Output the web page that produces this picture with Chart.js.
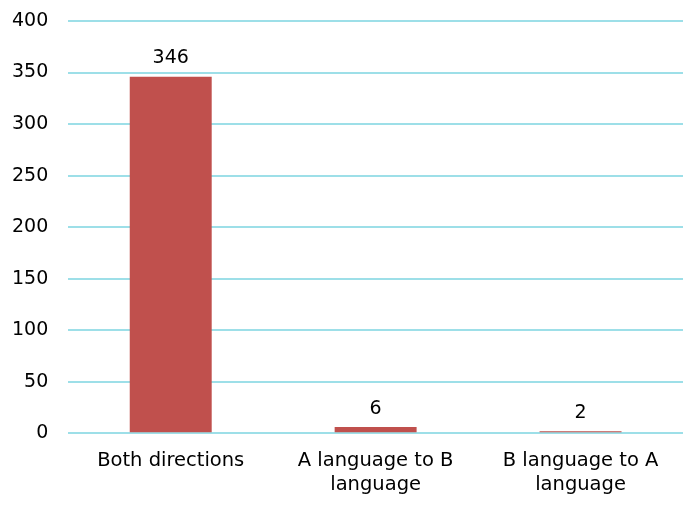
<!DOCTYPE html>
<html>
<head>
<meta charset="utf-8">
<script src="https://cdn.jsdelivr.net/npm/chart.js@4"></script>
<style>
  html, body { margin: 0; padding: 0; background: #fff; }
  #wrap { width: 700px; height: 506px; position: relative; }
</style>
</head>
<body>
<div id="wrap"><canvas id="chart"></canvas></div>
<script>
const categories = [
  "Both directions",
  ["A language to B", "language"],
  ["B language to A", "language"]
];
const counts = [346, 6, 2];
const yTicks = [0, 50, 100, 150, 200, 250, 300, 350, 400];

const FONT = "'DejaVu Sans', Verdana, sans-serif";

// draws the value above each bar
const valueLabels = {
  id: "valueLabels",
  afterDatasetsDraw(chart) {
    const ctx = chart.ctx;
    const meta = chart.getDatasetMeta(0);
    ctx.save();
    ctx.font = "19px " + FONT;
    ctx.fillStyle = "#000";
    ctx.textAlign = "center";
    ctx.textBaseline = "bottom";
    meta.data.forEach((bar, i) => {
      ctx.fillText(String(counts[i]), bar.x, bar.y - 9);
    });
    ctx.restore();
  }
};

new Chart(document.getElementById("chart").getContext("2d"), {
  type: "bar",
  data: {
    labels: categories,
    datasets: [{
      label: "Count",
      data: counts,
      backgroundColor: "#c0504d",
      barPercentage: 0.4,
      categoryPercentage: 1.0
    }]
  },
  options: {
    responsive: true,
    maintainAspectRatio: false,
    animation: false,
    layout: { padding: { top: 0, right: 17, bottom: 2, left: -8 } },
    plugins: {
      legend: { display: false },
      tooltip: { enabled: false }
    },
    scales: {
      x: {
        grid: { display: false },
        border: { display: false },
        ticks: {
          color: "#000",
          font: { family: FONT, size: 19.5, lineHeight: 1.25 },
          padding: 7,
          maxRotation: 0
        }
      },
      y: {
        min: 0,
        max: 400,
        afterBuildTicks(axis) {
          axis.ticks = yTicks.map(v => ({ value: v }));
        },
        // tick padding also pads the top; only keep room for half a label
        afterFit(axis) {
          axis.paddingTop = 21;
        },
        grid: { color: "#9ddfe8", lineWidth: 2, drawTicks: false },
        border: { display: false },
        ticks: {
          color: "#000",
          font: { family: FONT, size: 19 },
          padding: 20
        }
      }
    }
  },
  plugins: [valueLabels]
});
</script>
</body>
</html>
